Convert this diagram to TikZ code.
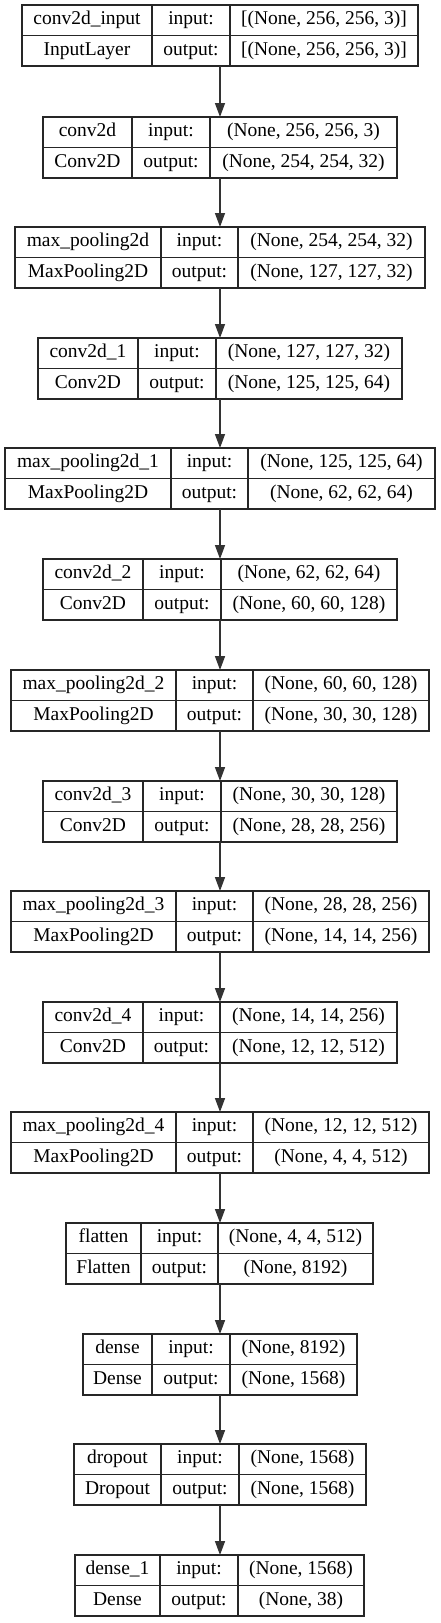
\documentclass[tikz,border=0pt]{standalone}
\usepackage{fontspec}
\setmainfont{Liberation Serif}
\usetikzlibrary{arrows.meta}

\tikzset{
  layerbox/.style={draw=black!85, line width=1.2pt, inner sep=0pt, outer sep=0pt, anchor=north west, minimum height=61pt},
  celltext/.style={inner sep=0pt, text height=13pt, text depth=4pt, font=\fontsize{19.5}{23}\selectfont},
  flow/.style={draw=black!80, line width=1.5pt, -{Triangle[length=14pt, width=10pt]}}
}

\begin{document}
\begin{tikzpicture}[x=1pt, y=-1pt]
  \useasboundingbox ( 0, 0 ) rectangle ( 440, 1623 );

  % слои
  \foreach \yt/\xa/\xb/\xc/\xd/\nm/\ty/\inp/\outp [count=\k] in {
      5/22/152/230/418/conv2d\_input/InputLayer/{[(None, 256, 256, 3)]}/{[(None, 256, 256, 3)]},
      117/43/132/210/397/conv2d/Conv2D/{(None, 256, 256, 3)}/{(None, 254, 254, 32)},
      227/15/161/238/425/max\_pooling2d/MaxPooling2D/{(None, 254, 254, 32)}/{(None, 127, 127, 32)},
      338/38/138/216/402/conv2d\_1/Conv2D/{(None, 127, 127, 32)}/{(None, 125, 125, 64)},
      448/5/171/248/435/max\_pooling2d\_1/MaxPooling2D/{(None, 125, 125, 64)}/{(None, 62, 62, 64)},
      559/43/143/221/397/conv2d\_2/Conv2D/{(None, 62, 62, 64)}/{(None, 60, 60, 128)},
      670/11/176/253/429/max\_pooling2d\_2/MaxPooling2D/{(None, 60, 60, 128)}/{(None, 30, 30, 128)},
      781/43/143/221/397/conv2d\_3/Conv2D/{(None, 30, 30, 128)}/{(None, 28, 28, 256)},
      891/11/176/253/429/max\_pooling2d\_3/MaxPooling2D/{(None, 28, 28, 256)}/{(None, 14, 14, 256)},
      1002/43/143/220/397/conv2d\_4/Conv2D/{(None, 14, 14, 256)}/{(None, 12, 12, 512)},
      1112/11/176/253/429/max\_pooling2d\_4/MaxPooling2D/{(None, 12, 12, 512)}/{(None, 4, 4, 512)},
      1223/66/141/218/373/flatten/Flatten/{(None, 4, 4, 512)}/{(None, 8192)},
      1334/83/152/230/357/dense/Dense/{(None, 8192)}/{(None, 1568)},
      1444/74/161/239/366/dropout/Dropout/{(None, 1568)}/{(None, 1568)},
      1555/75/160/238/364/dense\_1/Dense/{(None, 1568)}/{(None, 38)}
  } {
    % рамка и перегородки
    \node [layerbox, minimum width={(\xd-\xa)*1pt}] (b\k) at ( \xa, \yt ) {};
    \draw [draw=black!85, line width=1.2pt] ( \xb, \yt ) -- ( \xb, \yt+61 )
      ( \xc, \yt ) -- ( \xc, \yt+61 ) ( \xa, \yt+30.5 ) -- ( \xd, \yt+30.5 );

    % подписи
    \node [celltext] (b\k-name) at ( {(\xa+\xb)/2}, \yt+15.25 ) {\nm};
    \node [celltext] (b\k-type) at ( {(\xa+\xb)/2}, \yt+45.75 ) {\ty};
    \node [celltext] (b\k-ilab) at ( {(\xb+\xc)/2}, \yt+15.25 ) {input:};
    \node [celltext] (b\k-olab) at ( {(\xb+\xc)/2}, \yt+45.75 ) {output:};
    \node [celltext] (b\k-in) at ( {(\xc+\xd)/2}, \yt+15.25 ) {\inp};
    \node [celltext] (b\k-out) at ( {(\xc+\xd)/2}, \yt+45.75 ) {\outp};
  }

  % стрелки
  \foreach \i [remember=\i as \prev (initially 1)] in {2,...,15}
    \draw [flow] (b\prev.south -| b1.south) -- (b\i.north -| b1.south);
\end{tikzpicture}
\end{document}
